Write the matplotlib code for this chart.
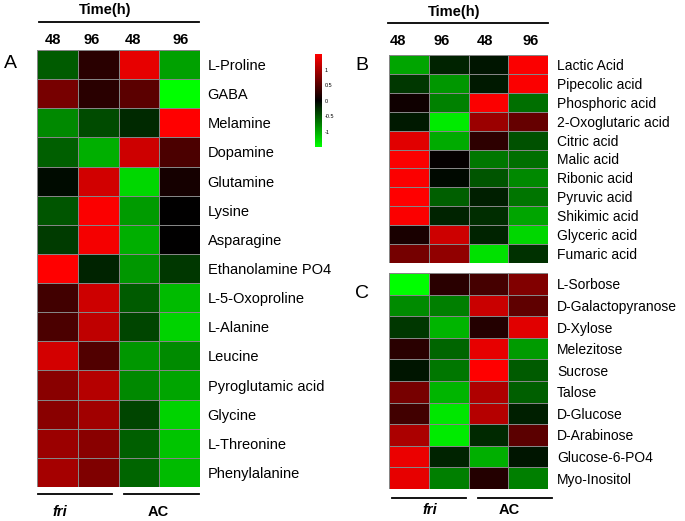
import numpy as np
import matplotlib
matplotlib.use("Agg")
import matplotlib.pyplot as plt
from matplotlib.colors import LinearSegmentedColormap
from matplotlib.lines import Line2D

plt.rcParams['font.family'] = ['Liberation Sans', 'DejaVu Sans']

# column headers
times = ["48", "96", "48", "96"]

# panel A: amino acids and related
rows_a = ["L-Proline", "GABA", "Melamine", "Dopamine", "Glutamine", "Lysine",
          "Asparagine", "Ethanolamine PO4", "L-5-Oxoproline", "L-Alanine",
          "Leucine", "Pyroglutamic acid", "Glycine", "L-Threonine", "Phenylalanine"]
vals_a = [[-0.53, 0.24, 1.35, -0.94],
          [0.7, 0.24, 0.53, -1.5],
          [-0.8, -0.44, -0.24, 1.5],
          [-0.56, -1.03, 1.2, 0.44],
          [-0.06, 1.23, -1.26, 0.12],
          [-0.5, 1.47, -0.91, 0.0],
          [-0.35, 1.44, -1.03, 0.0],
          [1.5, -0.2, -0.88, -0.32],
          [0.38, 1.2, -0.53, -1.09],
          [0.44, 1.12, -0.41, -1.24],
          [1.24, 0.47, -0.88, -0.82],
          [0.8, 1.06, -0.8, -0.97],
          [0.8, 0.94, -0.41, -1.24],
          [0.91, 0.8, -0.56, -1.15],
          [0.97, 0.74, -0.59, -1.09]]

# panel B: organic acids
rows_b = ["Lactic Acid", "Pipecolic acid", "Phosphoric acid", "2-Oxoglutaric acid",
          "Citric acid", "Malic acid", "Ribonic acid", "Pyruvic acid",
          "Shikimic acid", "Glyceric acid", "Fumaric acid"]
vals_b = [[-0.97, -0.2, -0.12, 1.47],
          [-0.32, -0.88, -0.15, 1.47],
          [0.09, -0.76, 1.47, -0.65],
          [-0.15, -1.38, 0.91, 0.59],
          [1.32, -1.0, 0.26, -0.47],
          [1.47, 0.03, -0.7, -0.65],
          [1.47, -0.05, -0.5, -0.8],
          [1.5, -0.56, -0.18, -0.68],
          [1.47, -0.2, -0.26, -0.97],
          [0.15, 1.2, -0.2, -1.26],
          [0.68, 0.85, -1.32, -0.29]]

# panel C: sugars
rows_c = ["L-Sorbose", "D-Galactopyranose", "D-Xylose", "Melezitose", "Sucrose",
          "Talose", "D-Glucose", "D-Arabinose", "Glucose-6-PO4", "Myo-Inositol"]
vals_c = [[-1.5, 0.24, 0.41, 0.76],
          [-0.82, -0.74, 1.18, 0.56],
          [-0.32, -1.06, 0.2, 1.32],
          [0.24, -0.59, 1.35, -0.91],
          [-0.12, -0.7, 1.5, -0.53],
          [0.7, -1.06, 1.03, -0.56],
          [0.38, -1.35, 1.06, -0.18],
          [1.0, -1.38, -0.24, 0.53],
          [1.38, -0.2, -1.03, -0.12],
          [1.35, -0.74, 0.2, -0.74]]

cbar_ticks = [1, 0.5, 0, -0.5, -1]

W, H = 685, 521
cmap = LinearSegmentedColormap.from_list("gbr", ["#00ff00", "#000000", "#ff0000"])
vmin, vmax = -1.5, 1.5


def box(x0, y0, x1, y1):
    # pixel box (top-left origin) -> figure rect
    return [x0 / W, 1 - y1 / H, (x1 - x0) / W, (y1 - y0) / H]


def fx(x):
    return x / W


def fy(y):
    return 1 - y / H


def heatmap(rect, vals, labels, fs, pad):
    ax = fig.add_axes(rect)
    data = np.array(vals)
    mesh = ax.pcolormesh(data, cmap=cmap, vmin=vmin, vmax=vmax,
                         edgecolors="#858585", linewidth=0.7)
    ax.set_xlim(0, data.shape[1])
    ax.set_ylim(data.shape[0], 0)
    ax.yaxis.tick_right()
    ax.set_yticks(np.arange(len(labels)) + 0.5)
    ax.set_yticklabels(labels, fontsize=fs)
    ax.tick_params(axis="y", length=0, pad=pad)
    ax.set_xticks([])
    for s in ax.spines.values():
        s.set_visible(False)
    return mesh


fig = plt.figure(figsize=(W / 100, H / 100), dpi=100)

mesh = heatmap(box(37, 50, 200, 487), vals_a, rows_a, 10.5, 5.5)
heatmap(box(389, 55, 548, 263), vals_b, rows_b, 10, 6.5)
heatmap(box(389, 273, 548, 489), vals_c, rows_c, 10, 6.5)

# colorbar
cax = fig.add_axes(box(315, 54, 322, 147))
cb = fig.colorbar(mesh, cax=cax, ticks=cbar_ticks)
cb.outline.set_visible(False)
cax.tick_params(length=0, labelsize=4, pad=2)
cax.set_yticklabels([str(t) for t in cbar_ticks])

# panel letters
fig.text(fx(4), fy(63), "A", fontsize=14, va="center")
fig.text(fx(355), fy(65), "B", fontsize=14, va="center")
fig.text(fx(355), fy(293), "C", fontsize=14, va="center")

# time headers and column labels
for tx, ty, ly, x0, x1, cols, cy in [(105, 10, 22, 39, 199, [53, 92, 133, 181], 40),
                                      (454, 12, 23, 388, 548, [398, 442, 485, 531], 41)]:
    fig.text(fx(tx), fy(ty), "Time(h)", fontsize=10.5,
             fontweight="bold", ha="center", va="center")
    fig.add_artist(Line2D([fx(x0), fx(x1)], [fy(ly), fy(ly)], color="black", lw=1.3))
    for cx, t in zip(cols, times):
        fig.text(fx(cx), fy(cy), t, fontsize=10.5, fontweight="bold",
                 ha="center", va="center")

# group brackets
for (f0, f1, a0, a1, yl, yt, fc, ac) in [(38, 112, 124, 199, 494, 512, 60, 158),
                                          (392, 466, 478, 552, 498, 510, 430, 509)]:
    fig.add_artist(Line2D([fx(f0), fx(f1)], [fy(yl), fy(yl)], color="black", lw=1.3))
    fig.add_artist(Line2D([fx(a0), fx(a1)], [fy(yl), fy(yl)], color="black", lw=1.3))
    fig.text(fx(fc), fy(yt), "fri", fontsize=10.5, fontweight="bold",
             fontstyle="italic", ha="center", va="center")
    fig.text(fx(ac), fy(yt), "AC", fontsize=10.5, fontweight="bold",
             ha="center", va="center")

fig.savefig("out.png", dpi=100)
